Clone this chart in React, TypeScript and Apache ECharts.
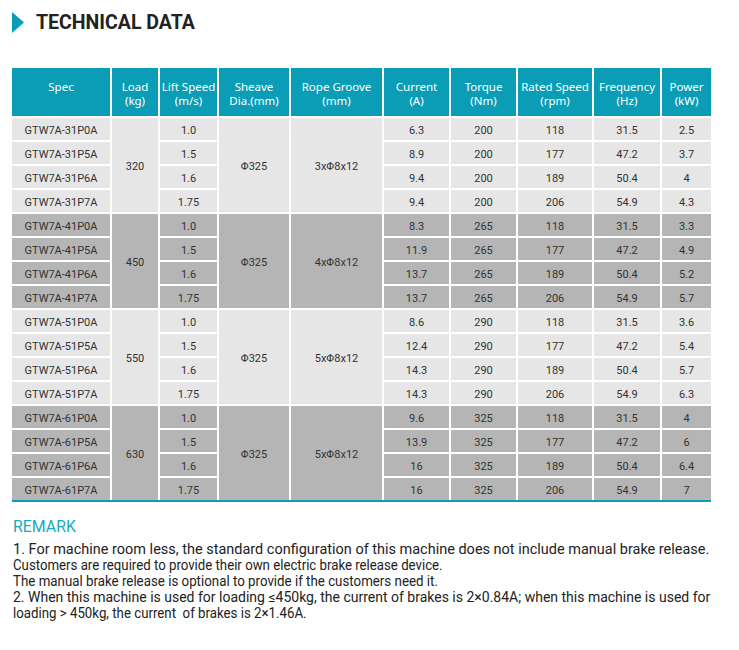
import React, { useEffect, useRef } from 'react';
import * as echarts from 'echarts';

const titleText = 'TECHNICAL DATA';
const headers = [
  'Spec', 'Load\n(kg)', 'Lift Speed\n(m/s)', 'Sheave\nDia.(mm)', 'Rope Groove\n(mm)',
  'Current\n(A)', 'Torque\n(Nm)', 'Rated Speed\n(rpm)', 'Frequency\n(Hz)', 'Power\n(kW)',
];
const specs = [
  'GTW7A-31P0A', 'GTW7A-31P5A', 'GTW7A-31P6A', 'GTW7A-31P7A',
  'GTW7A-41P0A', 'GTW7A-41P5A', 'GTW7A-41P6A', 'GTW7A-41P7A',
  'GTW7A-51P0A', 'GTW7A-51P5A', 'GTW7A-51P6A', 'GTW7A-51P7A',
  'GTW7A-61P0A', 'GTW7A-61P5A', 'GTW7A-61P6A', 'GTW7A-61P7A',
];
const loads = ['320', '450', '550', '630'];
const liftSpeeds = ['1.0', '1.5', '1.6', '1.75'];
const sheaveDias = ['Φ325', 'Φ325', 'Φ325', 'Φ325'];
const ropeGrooves = ['3xΦ8x12', '4xΦ8x12', '5xΦ8x12', '5xΦ8x12'];
const currents = [
  '6.3', '8.9', '9.4', '9.4',
  '8.3', '11.9', '13.7', '13.7',
  '8.6', '12.4', '14.3', '14.3',
  '9.6', '13.9', '16', '16',
];
const torques = ['200', '265', '290', '325'];
const ratedSpeeds = ['118', '177', '189', '206'];
const frequencies = ['31.5', '47.2', '50.4', '54.9'];
const powers = [
  '2.5', '3.7', '4', '4.3',
  '3.3', '4.9', '5.2', '5.7',
  '3.6', '5.4', '5.7', '6.3',
  '4', '6', '6.4', '7',
];
const remarkTitle = 'REMARK';
const remarkLines = [
  '1. For machine room less, the standard configuration of this machine does not include manual brake release.',
  'Customers are required to provide their own electric brake release device.',
  'The manual brake release is optional to provide if the customers need it.',
  '2. When this machine is used for loading \u2264450kg, the current of brakes is 2\u00d70.84A; when this machine is used for',
  'loading > 450kg, the current  of brakes is 2\u00d71.46A.',
];

// layout
const colEdges = [12, 111, 159, 218, 290, 383, 450, 517, 593, 661, 711];
const headerTop = 68;
const headerBottom = 117;
const rowH = 24;
const remarkWidths = [697, 430, 425, 697, 294];

const TEAL = '#0b9db5';
const LIGHT = '#e6e6e6';
const DARK = '#b5b5b5';

type Cell = { col: number; row: number; span: number; text: string; header: boolean; group: number };

function buildCells(): Cell[] {
  const cells: Cell[] = [];
  headers.forEach((h, c) => cells.push({ col: c, row: -1, span: 1, text: h, header: true, group: -1 }));
  for (let g = 0; g < 4; g++) {
    cells.push({ col: 1, row: g * 4, span: 4, text: loads[g], header: false, group: g });
    cells.push({ col: 3, row: g * 4, span: 4, text: sheaveDias[g], header: false, group: g });
    cells.push({ col: 4, row: g * 4, span: 4, text: ropeGrooves[g], header: false, group: g });
    for (let r = 0; r < 4; r++) {
      const i = g * 4 + r;
      cells.push({ col: 0, row: i, span: 1, text: specs[i], header: false, group: g });
      cells.push({ col: 2, row: i, span: 1, text: liftSpeeds[r], header: false, group: g });
      cells.push({ col: 5, row: i, span: 1, text: currents[i], header: false, group: g });
      cells.push({ col: 6, row: i, span: 1, text: torques[g], header: false, group: g });
      cells.push({ col: 7, row: i, span: 1, text: ratedSpeeds[r], header: false, group: g });
      cells.push({ col: 8, row: i, span: 1, text: frequencies[r], header: false, group: g });
      cells.push({ col: 9, row: i, span: 1, text: powers[i], header: false, group: g });
    }
  }
  return cells;
}

function measure(text: string, font: string): number {
  const cv = document.createElement('canvas');
  const ctx = cv.getContext('2d')!;
  ctx.font = font;
  return ctx.measureText(text).width;
}

export default function App() {
  const ref = useRef<HTMLDivElement>(null);
  useEffect(() => {
    if (!ref.current) return;
    const chart = echarts.init(ref.current, undefined, { renderer: 'svg' });
    const cells = buildCells();

    const remarkFont = '14px Roboto';
    const remarkGraphics = remarkLines.map((line, i) => {
      const w = measure(line, remarkFont);
      const sx = remarkWidths[i] / w;
      return {
        type: 'text',
        x: 13,
        y: 549 + i * 16,
        scaleX: sx,
        style: {
          text: line,
          fill: '#222222',
          font: remarkFont,
          textAlign: 'left',
          textVerticalAlign: 'middle',
          align: 'left',
          verticalAlign: 'middle',
        },
      };
    });
    const remarkTitleFont = '16px Roboto';
    const rtw = measure(remarkTitle, remarkTitleFont);

    const option: any = {
      animation: false,
      backgroundColor: '#ffffff',
      graphic: [
        {
          type: 'polygon',
          shape: { points: [[12, 12], [12, 33], [24, 22.5]] },
          style: { fill: TEAL },
        },
        {
          type: 'text',
          x: 36,
          y: 22.5,
          style: {
            text: titleText,
            fill: '#222222',
            font: 'bold 19.5px Roboto',
            textAlign: 'left',
            textVerticalAlign: 'middle',
            align: 'left',
            verticalAlign: 'middle',
          },
        },
        {
          type: 'rect',
          shape: { x: colEdges[0], y: headerBottom + 16 * rowH - 1, width: colEdges[10] - colEdges[0], height: 2 },
          style: { fill: TEAL },
        },
        {
          type: 'text',
          x: 13,
          y: 526,
          scaleX: 63 / rtw,
          style: {
            text: remarkTitle,
            fill: '#17a9c1',
            font: remarkTitleFont,
            textAlign: 'left',
            textVerticalAlign: 'middle',
            align: 'left',
            verticalAlign: 'middle',
          },
        },
        ...remarkGraphics,
      ],
      series: [
        {
          type: 'custom',
          coordinateSystem: 'none',
          data: cells.map((_, i) => [i]),
          renderItem: (params: any) => {
            const c = cells[params.dataIndex];
            const x0 = colEdges[c.col];
            const x1 = colEdges[c.col + 1];
            const left = c.col === 0 ? x0 : x0 + 1;
            const right = c.col === 9 ? x1 : x1 - 1;
            let top: number, bottom: number;
            if (c.header) {
              top = headerTop;
              bottom = headerBottom - 1;
            } else {
              top = headerBottom + c.row * rowH + 1;
              bottom = headerBottom + (c.row + c.span) * rowH - 1;
            }
            const fill = c.header ? TEAL : c.group % 2 === 0 ? LIGHT : DARK;
            const cx = (left + right) / 2;
            const textEl: any = c.header
              ? {
                  type: 'text',
                  x: cx,
                  y: 79.5,
                  style: {
                    text: c.text,
                    fill: '#ffffff',
                    font: '11.5px "Noto Sans"',
                    lineHeight: 14,
                    textAlign: 'center',
                    textVerticalAlign: 'top',
                    align: 'center',
                    verticalAlign: 'top',
                  },
                }
              : {
                  type: 'text',
                  x: cx,
                  y: (top + bottom) / 2 + 1.5,
                  style: {
                    text: c.text,
                    fill: '#333333',
                    font: '11px Roboto',
                    textAlign: 'center',
                    textVerticalAlign: 'middle',
                    align: 'center',
                    verticalAlign: 'middle',
                  },
                };
            return {
              type: 'group',
              children: [
                {
                  type: 'rect',
                  shape: { x: left, y: top, width: right - left, height: bottom - top },
                  style: { fill },
                },
                textEl,
              ],
            };
          },
        },
      ],
    };
    chart.setOption(option);
    return () => chart.dispose();
  }, []);
  return (
    <div
      ref={ref}
      style={{ position: 'absolute', left: 0, top: 0, width: 739, height: 650, background: '#fff' }}
    />
  );
}
